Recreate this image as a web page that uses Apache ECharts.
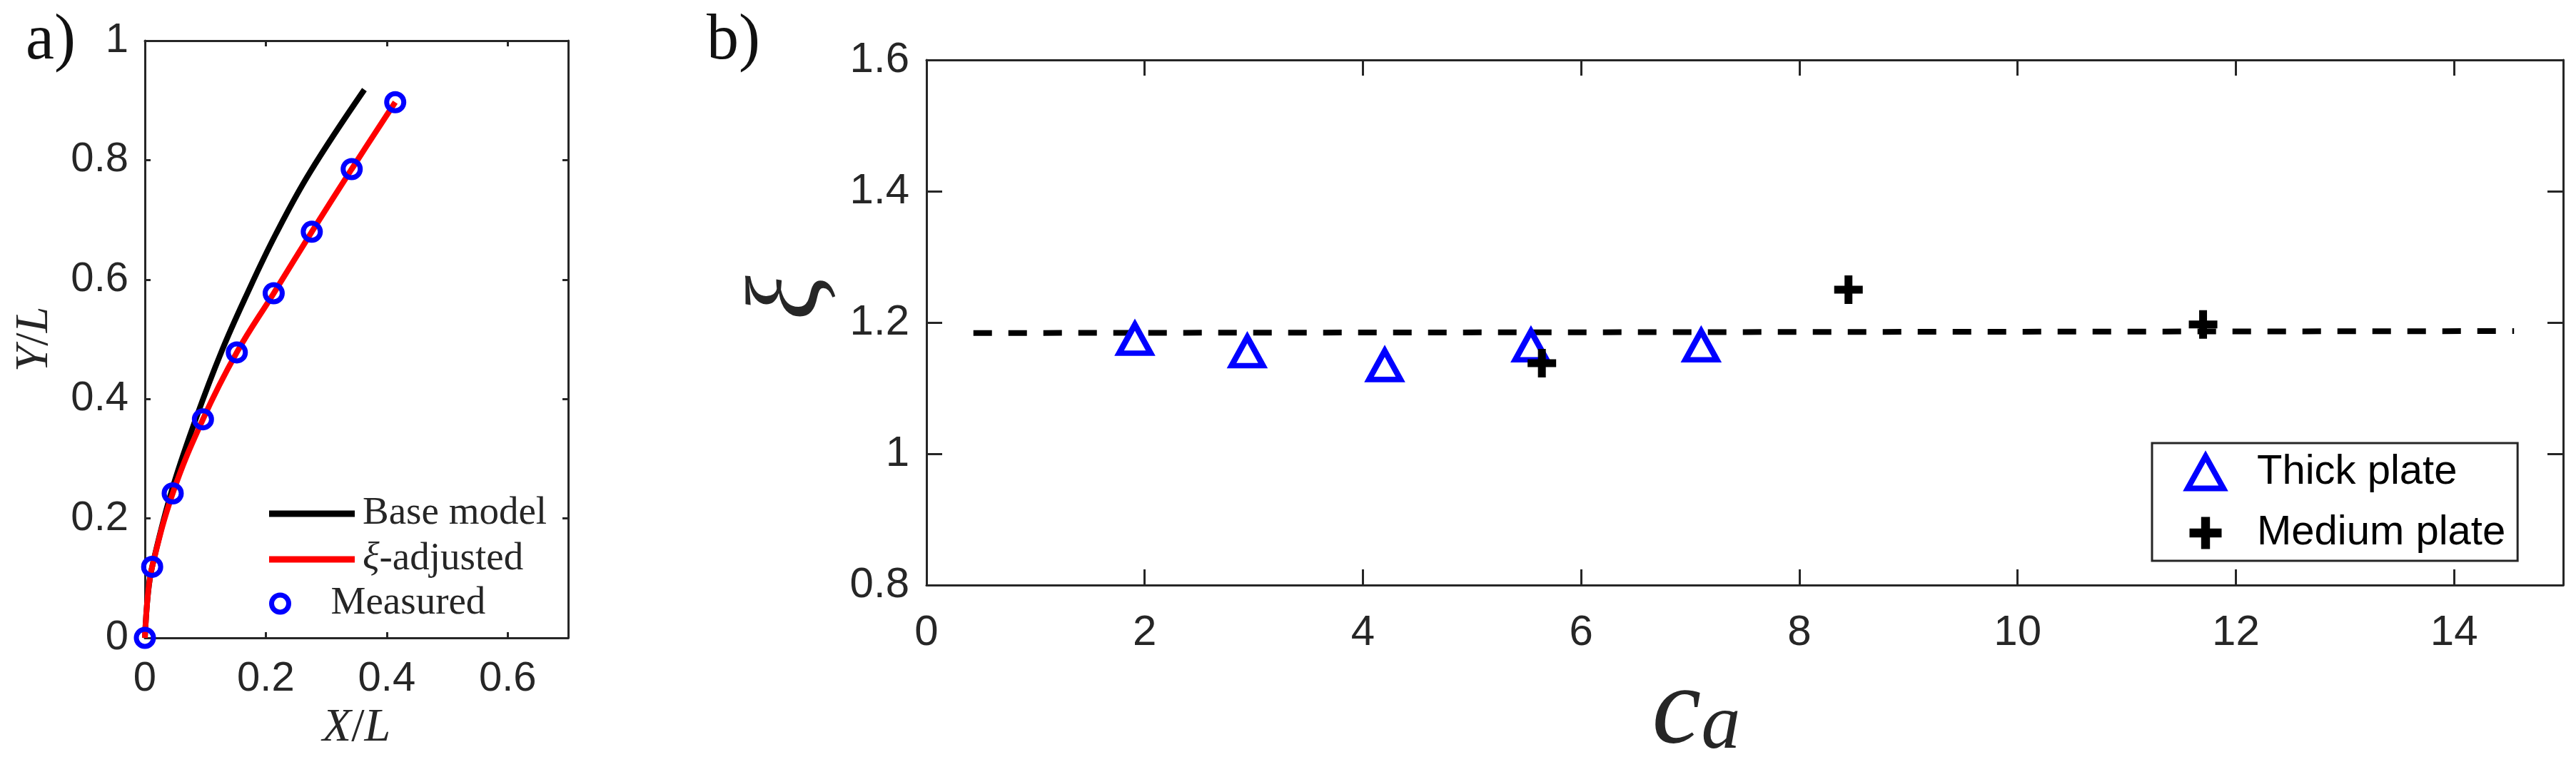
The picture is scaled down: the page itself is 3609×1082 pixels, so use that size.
<!DOCTYPE html>
<html>
<head>
<meta charset="utf-8">
<script src="https://cdn.jsdelivr.net/npm/echarts@6/dist/echarts.min.js"></script>
<style>
html,body{margin:0;padding:0;background:#ffffff;}
#chart{width:3609px;height:1082px;}
</style>
</head>
<body>
<div id="chart"></div>
<script>
// ---------- Panel a) : deflection profile ----------
const measuredX = [0, 0.012, 0.046, 0.096, 0.152, 0.213, 0.276, 0.342, 0.414];
const measuredY = [0, 0.119, 0.242, 0.366, 0.478, 0.577, 0.680, 0.785, 0.897];
const adjustedX = [0, 0.005, 0.012, 0.046, 0.096, 0.152, 0.213, 0.276, 0.342, 0.414];
const adjustedY = [0, 0.073, 0.119, 0.242, 0.366, 0.478, 0.577, 0.680, 0.785, 0.897];
const baseX = [0, 0.005, 0.012, 0.044, 0.084, 0.127, 0.169, 0.216, 0.272, 0.363];
const baseY = [0, 0.073, 0.119, 0.245, 0.366, 0.480, 0.576, 0.675, 0.778, 0.918];
const xTicksA = [0, 0.2, 0.4, 0.6];
const yTicksA = [0, 0.2, 0.4, 0.6, 0.8, 1];

// ---------- Panel b) : xi versus c_a ----------
const thickCa = [1.91, 2.94, 4.20, 5.54, 7.10];
const thickXi = [1.175, 1.156, 1.135, 1.165, 1.165];
const mediumCa = [5.64, 8.45, 11.70];
const mediumXi = [1.138, 1.250, 1.197];
const fitCa = [0.43, 14.55];
const fitXi = [1.184, 1.187];
const xTicksB = [0, 2, 4, 6, 8, 10, 12, 14];
const yTicksB = [0.8, 1, 1.2, 1.4, 1.6];

const zip = (a, b) => a.map((v, i) => [v, b[i]]);
const AX = '#262626';
const SANS = '"Liberation Sans", Arial, sans-serif';
const SERIF = '"Liberation Serif", "Times New Roman", serif';

const TRI = 'path://M25,0 L50,45 L0,45 Z';
const PLUS = 'path://M14.5,0 H25.5 V14.5 H40 V25.5 H25.5 V40 H14.5 V25.5 H0 V14.5 H14.5 Z';

function axis(o) {
  return {
    type: 'value',
    gridIndex: o.grid,
    position: o.pos,
    min: o.min, max: o.max, interval: o.interval,
    axisLine: { show: true, onZero: false, lineStyle: { color: AX, width: 3 } },
    axisTick: { show: true, inside: true, length: o.tick, lineStyle: { color: AX, width: 3 } },
    axisLabel: {
      show: !!o.label, margin: o.margin || 0, fontSize: o.fs || 58, fontFamily: SANS, color: AX,
      showMaxLabel: o.showMax !== false, showMinLabel: true
    },
    splitLine: { show: false },
    name: o.name || '',
    nameLocation: 'middle',
    nameGap: o.nameGap || 0,
    nameRotate: o.nameRotate,
    nameTextStyle: o.nameStyle || {}
  };
}

const nameRich = (fs) => ({
  fontFamily: SERIF, fontSize: fs, color: AX, lineHeight: fs,
  rich: { i: { fontFamily: SERIF, fontStyle: 'italic', fontSize: fs, color: AX, lineHeight: fs } }
});

const option = {
  animation: false,
  backgroundColor: '#ffffff',
  grid: [
    { left: 203, top: 57, width: 593, height: 837 },
    { left: 1298, top: 84, width: 2293, height: 743 }
  ],
  xAxis: [
    axis({ grid: 0, pos: 'bottom', min: 0, max: 0.7, interval: 0.2, tick: 8, label: true, margin: 29, fs: 58, showMax: false,
           name: '{i|X}/{i|L}', nameGap: 94, nameStyle: nameRich(66) }),
    axis({ grid: 0, pos: 'top', min: 0, max: 0.7, interval: 0.2, tick: 8 }),
    axis({ grid: 1, pos: 'bottom', min: 0, max: 15, interval: 2, tick: 22, label: true, margin: 37, fs: 60, showMax: false,
           name: '{c|c}{a|a}', nameGap: 66,
           nameStyle: {
             fontFamily: SERIF, fontSize: 150, color: AX, padding: [0, 136, 0, 0],
             rich: {
               c: { fontFamily: SERIF, fontStyle: 'italic', fontSize: 155, lineHeight: 150, color: AX },
               a: { fontFamily: SERIF, fontStyle: 'italic', fontSize: 110, lineHeight: 80, color: AX, verticalAlign: 'bottom' }
             }
           } }),
    axis({ grid: 1, pos: 'top', min: 0, max: 15, interval: 2, tick: 22 })
  ],
  yAxis: [
    axis({ grid: 0, pos: 'left', min: 0, max: 1, interval: 0.2, tick: 8, label: true, margin: 23, fs: 58,
           name: '{i|Y}/{i|L}', nameGap: 121, nameRotate: 90, nameStyle: nameRich(66) }),
    axis({ grid: 0, pos: 'right', min: 0, max: 1, interval: 0.2, tick: 8 }),
    axis({ grid: 1, pos: 'left', min: 0.8, max: 1.6, interval: 0.2, tick: 22, label: true, margin: 24, fs: 60,
           name: 'ξ', nameGap: 96, nameRotate: 90,
           nameStyle: { fontFamily: SERIF, fontStyle: 'italic', fontSize: 145, lineHeight: 145, color: AX, padding: [0, 0, 0, 69] } }),
    axis({ grid: 1, pos: 'right', min: 0.8, max: 1.6, interval: 0.2, tick: 22 })
  ],
  legend: [
    {
      orient: 'vertical', left: 377, top: 690, padding: 0,
      itemWidth: 120, itemHeight: 9, itemGap: 4, icon: 'rect',
      data: ['Base model', 'ξ-adjusted'],
      formatter: (n) => n === 'ξ-adjusted' ? '{i|ξ}-adjusted' : n,
      textStyle: {
        fontFamily: SERIF, fontSize: 55, lineHeight: 60, color: AX, padding: [0, 0, 0, 6],
        rich: { i: { fontFamily: SERIF, fontStyle: 'italic', fontSize: 55, lineHeight: 60, color: AX } }
      },
      selectedMode: false
    },
    {
      orient: 'vertical', left: 377, top: 816, padding: 0,
      itemWidth: 120, itemHeight: 24,
      data: [{ name: 'Measured', itemStyle: { color: 'rgba(0,0,0,0)', borderColor: '#0000ff', borderWidth: 7 } }],
      textStyle: { fontFamily: SERIF, fontSize: 55, lineHeight: 60, color: AX, padding: [0, 0, 0, 6] },
      selectedMode: false
    },
    {
      orient: 'vertical', left: 3015, top: 621, padding: [12, 17, 10, 46],
      itemWidth: 50, itemHeight: 45, itemGap: 27,
      borderColor: AX, borderWidth: 3, backgroundColor: '#ffffff',
      data: [
        { name: 'Thick plate', itemStyle: { color: 'rgba(0,0,0,0)', borderColor: '#0000ff', borderWidth: 8, borderJoin: 'miter' } },
        { name: 'Medium plate' }
      ],
      textStyle: { fontFamily: SANS, fontSize: 58, lineHeight: 58, color: '#000000', padding: [0, 0, 0, 42] },
      selectedMode: false
    }
  ],
  graphic: [
    { type: 'text', x: 36, y: 58, style: { text: 'a)', fontFamily: SERIF, fontSize: 90, fill: '#111111', verticalAlign: 'middle', align: 'left' } },
    { type: 'text', x: 990, y: 58, style: { text: 'b)', fontFamily: SERIF, fontSize: 90, fill: '#111111', verticalAlign: 'middle', align: 'left' } }
  ],
  series: [
    {
      name: 'Base model', type: 'line', xAxisIndex: 0, yAxisIndex: 0,
      data: zip(baseX, baseY), smooth: 0.4, symbol: 'none', color: '#000000',
      itemStyle: { color: '#000000' }, lineStyle: { color: '#000000', width: 8 }, z: 2
    },
    {
      name: 'ξ-adjusted', type: 'line', xAxisIndex: 0, yAxisIndex: 0,
      data: zip(adjustedX, adjustedY), smooth: 0.4, symbol: 'none', color: '#ff0000',
      itemStyle: { color: '#ff0000' }, lineStyle: { color: '#ff0000', width: 8 }, z: 3
    },
    {
      name: 'Measured', type: 'scatter', xAxisIndex: 0, yAxisIndex: 0,
      data: zip(measuredX, measuredY), symbol: 'circle', symbolSize: 24,
      itemStyle: { color: 'rgba(0,0,0,0)', borderColor: '#0000ff', borderWidth: 7, opacity: 1 }, z: 4
    },
    {
      name: 'fit', type: 'line', xAxisIndex: 2, yAxisIndex: 2,
      data: zip(fitCa, fitXi), symbol: 'none', color: '#000000',
      lineStyle: { color: '#000000', width: 8, type: [26, 23] }, z: 1
    },
    {
      name: 'Thick plate', type: 'scatter', xAxisIndex: 2, yAxisIndex: 2,
      data: zip(thickCa, thickXi), symbol: TRI, symbolSize: [44, 40],
      itemStyle: { color: 'rgba(0,0,0,0)', borderColor: '#0000ff', borderWidth: 8, borderJoin: 'miter', opacity: 1 }, z: 3
    },
    {
      name: 'Medium plate', type: 'scatter', xAxisIndex: 2, yAxisIndex: 2,
      data: zip(mediumCa, mediumXi), symbol: PLUS, symbolSize: 40,
      itemStyle: { color: '#000000', opacity: 1 }, z: 4
    }
  ]
};

const chart = echarts.init(document.getElementById('chart'), null, { renderer: 'canvas', width: 3609, height: 1082 });
chart.setOption(option);
</script>
</body>
</html>
